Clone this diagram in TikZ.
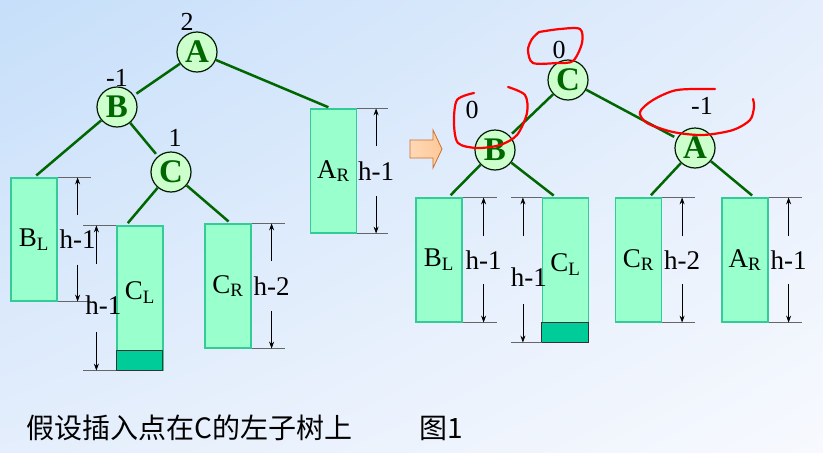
\documentclass[tikz,border=0pt]{standalone}
\usepackage{fontspec}
\setmainfont{Liberation Serif}
\newfontfamily\cjk{Noto Sans CJK SC}
\usetikzlibrary{calc,arrows.meta,shadings}

\definecolor{treegreen}{HTML}{006600}
\definecolor{nodefill}{HTML}{CCFFCC}
\definecolor{boxfill}{HTML}{99FFCC}
\definecolor{boxline}{HTML}{33CC99}
\definecolor{newfill}{HTML}{00CC99}
\definecolor{bgtl}{HTML}{C6DFFA}
\definecolor{bgmid}{HTML}{E4EEFC}
\definecolor{bgbr}{HTML}{F7F9FE}
\definecolor{arrowfill}{HTML}{FFC898}
\definecolor{arrowline}{HTML}{D0702C}

\tikzset{
  avl/.style={circle, draw=black!75!treegreen, line width=1.2pt, fill=nodefill,
    minimum size=40pt, inner sep=0pt, text=treegreen,
    font=\fontsize{33}{33}\selectfont\bfseries},
  subtree/.style={draw=boxline, line width=1.2pt, fill=boxfill, minimum width=46pt,
    inner sep=0pt, font=\fontsize{27}{27}\selectfont},
  newpart/.style={draw=black!80, line width=1pt, fill=newfill},
  branch/.style={treegreen, line width=2.5pt, shorten >=3pt},
  balance/.style={font=\fontsize{26}{26}\selectfont, inner sep=0pt},
  dimline/.style={black!60, line width=0.9pt},
  dimarrow/.style={-{Stealth[length=7pt,width=5pt]}, line width=0.7pt},
  dimtext/.style={font=\fontsize{27}{27}\selectfont, inner sep=0pt},
  scribble/.style={red, line width=2.2pt, line cap=round, line join=round}
}

% #2 subtree, #3 side, #4 offset of the bar, #5 half gap, #6 text
\newcommand{\sizemark}[6][]{%
  \coordinate (#2m) at ($(#2.#3)+(#4,0)$);
  \draw[dimline] (#2.north #3) -- ++({1.65*#4},0) (#2.south #3) -- ++({1.65*#4},0);
  \draw[dimarrow] ($(#2m)+(0,-#5)$) -- (#2m |- #2.north);
  \draw[dimarrow] ($(#2m)+(0,#5)$) -- (#2m |- #2.south);
  \node[dimtext,#1] (#2h) at (#2m) {#6};
}

\begin{document}
\begin{tikzpicture}[x=1pt,y=-1pt]
% background
\shade[upper left=bgtl, upper right=bgmid, lower left=bgmid, lower right=bgbr]
  (0,0) rectangle (823,453);
\useasboundingbox (0,0) rectangle (823,453);

% before the rotation
\node[avl] (lA) at (197,52) {A};
\node[avl] (lB) at (117,107) {B};
\node[avl] (lC) at (171,172) {C};
\node[balance] (lAbal) at (187,22) {2};
\node[balance] (lBbal) at (117,78) {-1};
\node[balance] (lCbal) at (175,138) {1};

\node[subtree, minimum height=123pt] (lBL) at (34,239.5) {B\textsubscript{L}};
\node[subtree, minimum height=144pt, text depth=14pt] (lCL) at (140,298) {C\textsubscript{L}};
\node[subtree, minimum height=124pt] (lCR) at (228,286) {C\textsubscript{R}};
\node[subtree, minimum height=124pt] (lAR) at (333.5,171) {A\textsubscript{R}};
\draw[newpart] (lCL.south west) rectangle ++(46,-20);

\draw[branch] (lA) -- (lB);
\draw[branch] (lA) -- ($(lAR.north west)!.45!(lAR.north east)$);
\draw[branch] (lB) -- (lBL.north);
\draw[branch] (lB) -- (lC);
\draw[branch] (lC) -- ($(lCL.north west)!.2!(lCL.north east)$);
\draw[branch] (lC) -- ($(lCR.north west)!.56!(lCR.north east)$);

\sizemark{lBL}{east}{20}{25}{h-1}
\sizemark{lCR}{east}{20}{25}{h-2}
\sizemark{lAR}{east}{19}{25}{h-1}
\sizemark[xshift=7pt,yshift=-7pt]{lCL}{west}{-20}{34}{h-1}

% arrow
\draw[arrowline, line width=0.8pt, left color=arrowfill!70, right color=arrowfill]
  (410,140) -- (433,140) -- (433,130) -- (442,149) -- (433,168) -- (433,158)
  -- (410,158) -- cycle;

% after the rotation
\node[avl] (rC) at (568,80) {C};
\node[avl] (rB) at (495,150) {B};
\node[avl] (rA) at (695,148) {A};
\node[balance] (rCbal) at (559,50) {0};
\node[balance] (rBbal) at (472,110) {0};
\node[balance] (rAbal) at (702,106) {-1};

\node[subtree, minimum height=124pt] (rBL) at (439,260) {B\textsubscript{L}};
\node[subtree, minimum height=144pt, text depth=14pt] (rCL) at (565.5,270) {C\textsubscript{L}};
\node[subtree, minimum height=124pt] (rCR) at (638.5,260) {C\textsubscript{R}};
\node[subtree, minimum height=124pt] (rAR) at (745,260) {A\textsubscript{R}};
\draw[newpart] (rCL.south west) rectangle ++(47,-20);

\draw[branch] (rC) -- (rB);
\draw[branch] (rC) -- (rA);
\draw[branch] (rB) -- ($(rBL.north west)!.7!(rBL.north east)$);
\draw[branch] (rB) -- ($(rCL.north west)!.3!(rCL.north east)$);
\draw[branch] (rA) -- ($(rCR.north west)!.72!(rCR.north east)$);
\draw[branch] (rA) -- ($(rAR.north west)!.7!(rAR.north east)$);

\sizemark{rBL}{east}{21}{24}{h-1}
\sizemark{rCR}{east}{20}{24}{h-2}
\sizemark{rAR}{east}{20}{24}{h-1}
\sizemark[xshift=6pt,yshift=-7pt]{rCL}{west}{-19}{34}{h-1}

% red marks
\draw[scribble] plot[smooth] coordinates {(539,32) (560,29) (580,29) (582,43)
  (573,61) (557,63) (533,63) (528,50) (532,39) (539,32)};
\draw[scribble] plot[smooth] coordinates {(508,87) (525,95) (527,113) (517,135)
  (500,145) (477,148) (458,143) (454,123) (457,100) (474,93)};
\draw[scribble] plot[smooth] coordinates {(715,89) (677,90) (653,100) (640,112)
  (647,123) (673,132) (703,135) (733,130) (750,120) (754,107) (753,99)};

% caption
\node[anchor=west, inner sep=0pt, font=\fontsize{28}{28}\selectfont\cjk] (note) at (26,428) {假设插入点在C的左子树上};
\node[anchor=west, inner sep=0pt, font=\fontsize{28}{28}\selectfont\cjk] (fig) at (419,428) {图1};
\end{tikzpicture}
\end{document}
